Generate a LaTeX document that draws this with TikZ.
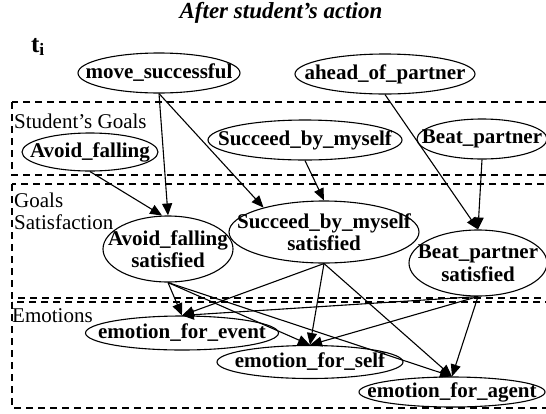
\documentclass[tikz,border=0pt]{standalone}
\usepackage{fontspec}
\setmainfont{Liberation Serif}
\usepackage{tikz}
\usetikzlibrary{arrows.meta,shapes.geometric,positioning}

\tikzset{
  var/.style={ellipse,draw,line width=1.1pt,inner xsep=-30pt,inner ysep=-8pt,align=center,
    font=\fontsize{21}{22.5}\selectfont\bfseries},
  layerbox/.style={draw,line width=1.4pt,dash pattern=on 7pt off 5pt},
  layername/.style={anchor=west,inner sep=0pt,align=left,
    font=\fontsize{21}{22}\selectfont},
  link/.style={->,line width=1.1pt},
}

\begin{document}
\begin{tikzpicture}[>={Triangle[length=12pt,width=10pt]},x=1pt,y=-1pt]
\useasboundingbox (0,0) rectangle (546,413);
% layers
\draw[layerbox] (12,102) rectangle (560,175);
\draw[layerbox] (12,184) rectangle (560,298);
\draw[layerbox] (12,302) rectangle (560,408);
\node[layername] (lgoals) at (14,121) {Student’s Goals};
\node[layername] (lsat) at (14,211) {Goals\\Satisfaction};
\node[layername] (lemo) at (12,316) {Emotions};
% title
\node[font=\fontsize{23}{24}\selectfont\bfseries\itshape] (title) at (281,13) {After student’s action};
\node[font=\fontsize{25}{26}\selectfont\bfseries] (ti) at (38,47) {t\textsubscript{i}};
% observed
\node[var,minimum width=162pt,minimum height=40pt] (ms) at (159,73) {move\_successful};
\node[var,minimum width=180pt,minimum height=40pt] (aop) at (385,74) {ahead\_of\_partner};
% goals
\node[var,minimum width=136pt,minimum height=38pt] (af) at (90,152) {Avoid\_falling};
\node[var,minimum width=194pt,minimum height=40pt] (sbm) at (305,140) {Succeed\_by\_myself};
\node[var,minimum width=130pt,minimum height=40pt] (bp) at (482,139) {Beat\_partner};
% satisfaction
\node[var,minimum width=130pt,minimum height=66pt] (afs) at (168,249) {Avoid\_falling\\satisfied};
\node[var,minimum width=190pt,minimum height=62pt] (sbms) at (324,232) {Succeed\_by\_myself\\satisfied};
\node[var,minimum width=138pt,minimum height=66pt] (bps) at (478,263) {Beat\_partner\\satisfied};
% emotions
\node[var,minimum width=193pt,minimum height=34pt] (efe) at (182,333) {emotion\_for\_event};
\node[var,minimum width=186pt,minimum height=33pt] (efs) at (310,362) {emotion\_for\_self};
\node[var,minimum width=186pt,minimum height=30pt] (efa) at (452,392) {emotion\_for\_agent};
% links
\draw[link] (ms.south) -- (afs.north);
\draw[link] (ms.south) -- (sbms.158);
\draw[link] (af.south) -- (afs.100);
\draw[link] (sbm.south) -- (sbms.north);
\draw[link] (aop.south) -- (bps.north);
\draw[link] (bp.south) -- (bps.north);
\foreach \s in {afs,sbms,bps}{
  \foreach \e in {efe,efs,efa}{
    \draw[link] (\s.south) -- (\e.north);
  }
}
\end{tikzpicture}
\end{document}
